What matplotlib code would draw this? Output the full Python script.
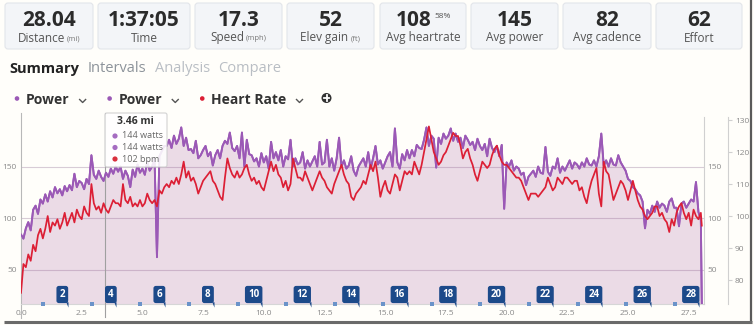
import numpy as np
import matplotlib.pyplot as plt
from matplotlib.patches import FancyBboxPatch, Circle
from matplotlib.path import Path

plt.rcParams['font.family'] = ['Open Sans', 'DejaVu Sans']

# summary tiles
tile_values = ['28.04', '1:37:05', '17.3', '52', '108', '145', '82', '62']
tile_labels = ['Distance', 'Time', 'Speed', 'Elev gain', 'Avg heartrate',
               'Avg power', 'Avg cadence', 'Effort']
tile_units = ['(mi)', '', '(mph)', '(ft)', '', '', '', '']
tile_sup = ['', '', '', '', '58%', '', '', '']

tabs = ['Summary', 'Intervals', 'Analysis', 'Compare']
series_names = ['Power', 'Power', 'Heart Rate']

# samples every 0.1 mi, one row per mile (watts)
power = [
    84, 80, 90, 96, 88, 108, 112, 104, 118, 114,
    123, 116, 126, 120, 130, 124, 128, 122, 131, 126,
    132, 127, 143, 130, 136, 134, 128, 138, 133, 161,
    142, 138, 146, 140, 136, 144, 140, 148, 143, 150,
    145, 150, 138, 146, 141, 130, 147, 140, 152, 144,
    148, 142, 155, 146, 150, 158, 62, 160, 165, 170,
    170, 176, 168, 180, 172, 177, 188, 170, 178, 166,
    167, 163, 175, 158, 161, 166, 170, 160, 164, 151,
    161, 166, 158, 170, 175, 172, 183, 168, 165, 170,
    158, 183, 150, 176, 162, 161, 155, 158, 150, 163,
    154, 160, 148, 174, 158, 164, 156, 166, 150, 160,
    157, 176, 150, 158, 152, 154, 164, 148, 156, 150,
    155, 160, 150, 174, 152, 154, 176, 150, 158, 146,
    158, 178, 150, 156, 148, 151, 160, 146, 141, 150,
    154, 158, 150, 164, 148, 158, 170, 152, 156, 148,
    154, 160, 164, 150, 187, 154, 148, 162, 156, 166,
    158, 166, 160, 171, 168, 167, 176, 188, 170, 180,
    177, 149, 178, 172, 182, 177, 180, 187, 175, 182,
    174, 178, 168, 180, 176, 171, 174, 166, 177, 170,
    166, 172, 160, 177, 168, 164, 170, 160, 171, 109,
    154, 150, 156, 146, 150, 148, 142, 144, 132, 140,
    143, 146, 140, 150, 144, 143, 169, 145, 141, 150,
    148, 158, 144, 150, 146, 151, 156, 148, 154, 152,
    148, 154, 150, 158, 152, 151, 156, 150, 160, 182,
    151, 156, 150, 158, 152, 151, 161, 154, 150, 146,
    138, 136, 130, 128, 124, 122, 116, 90, 108, 104,
    112, 106, 116, 110, 114, 112, 106, 116, 119, 110,
    110, 92, 114, 116, 110, 114, 118, 116, 135, 106,
    98, 17,
]

# bpm, same sampling
heart_rate = [
    76, 85, 84, 88, 86, 91, 89, 94, 96, 93,
    96, 100, 95, 98, 97, 99, 96, 98, 101, 97,
    99, 101, 98, 102, 100, 99, 103, 101, 100, 110,
    104, 102, 103, 101, 104, 102, 101, 103, 105, 104,
    104, 103, 110, 105, 104, 106, 103, 104, 103, 105,
    103, 104, 107, 105, 104, 105, 103, 108, 107, 109,
    110, 109, 111, 110, 112, 110, 113, 117, 112, 114,
    111, 112, 110, 107, 109, 111, 112, 113, 114, 111,
    110, 108, 106, 105, 112, 118, 115, 113, 112, 114,
    112, 113, 115, 116, 113, 111, 112, 110, 111, 109,
    108, 111, 114, 117, 114, 116, 113, 112, 109, 111,
    108, 110, 118, 115, 112, 112, 111, 114, 112, 110,
    108, 110, 112, 114, 112, 111, 109, 108, 107, 110,
    112, 114, 116, 113, 111, 110, 106, 105, 107, 108,
    109, 111, 110, 113, 116, 114, 117, 112, 106, 109,
    111, 108, 107, 110, 113, 112, 108, 111, 114, 113,
    114, 113, 117, 115, 113, 116, 120, 124, 128, 124,
    120, 118, 116, 117, 119, 120, 122, 124, 126, 125,
    125, 122, 118, 120, 121, 118, 116, 113, 111, 114,
    117, 116, 115, 116, 119, 121, 122, 119, 117, 116,
    116, 115, 114, 113, 112, 112, 111, 109, 107, 105,
    107, 107, 107, 106, 107, 108, 109, 112, 110, 108,
    109, 112, 111, 110, 112, 112, 111, 110, 111, 111,
    108, 109, 106, 104, 108, 111, 113, 115, 107, 103,
    117, 114, 113, 109, 105, 107, 109, 111, 110, 108,
    105, 108, 111, 108, 105, 103, 102, 100, 99, 100,
    101, 103, 103, 100, 101, 99, 98, 95, 99, 97,
    101, 103, 104, 101, 99, 101, 97, 102, 100, 99,
    101, 97,
]

distance = list(np.round(np.arange(0, 28.05, 0.1), 1)) + [28.04]

laps = list(range(1, 29))
hover_mile = 3.46
hover_title = '3.46 mi'
hover_lines = ['144 watts', '144 watts', '102 bpm']

PURPLE = '#9b59b6'
RED = '#dc1f35'
BG = '#fffefa'
TICK = '#8a8a8a'

fig = plt.figure(figsize=(7.54, 3.25), dpi=100, facecolor=BG)

ax = fig.add_axes([21 / 754, 21 / 325, 683 / 754, 191 / 325])
ax.set_facecolor(BG)
ax.set_xlim(0, 28.13)
ax.set_ylim(16.5, 202)
ax.fill_between(distance, power, 16.5, color='#9c4f96', alpha=0.2, lw=0, zorder=1)
ax.plot(distance, power, color=PURPLE, lw=1.35, zorder=2)
ax.set_yticks([50, 100, 150])
ax.set_xticks(np.arange(0, 28, 2.5))
ax.set_xticklabels([f'{v:.1f}' for v in np.arange(0, 28, 2.5)])
ax.grid(axis='y', color='#d8ccd6', lw=0.8)
ax.set_axisbelow(True)
ax.tick_params(axis='both', length=0, labelsize=6, labelcolor=TICK)
ax.tick_params(axis='y', pad=3)
ax.tick_params(axis='x', pad=4)
for s in ['top', 'left', 'right']:
    ax.spines[s].set_visible(False)
ax.spines['bottom'].set_color('#d6d6d6')
ax.spines['bottom'].set_linewidth(0.8)
ax.axvline(0, ymin=-0.075, ymax=1, color='#b8b8b8', lw=0.8, clip_on=False)
ax.axvline(hover_mile, ymin=-0.07, ymax=1, color='#a0a0a0', lw=0.8, clip_on=False, zorder=3)

# second power series on the inner right axis
ax2 = ax.twinx()
ax2.set_ylim(16.5, 202)
ax2.plot(distance, power, color=PURPLE, lw=1.35)
ax2.set_yticks([50, 100, 150])
ax2.tick_params(axis='y', length=0, pad=2.5, labelsize=6, labelcolor=TICK)
for s in ['top', 'left', 'bottom']:
    ax2.spines[s].set_visible(False)
ax2.spines['right'].set_color('#d0d0d0')
ax2.spines['right'].set_bounds(16.5, 198)

# heart rate on the outer right axis
ax3 = ax.twinx()
ax3.set_ylim(72.5, 132.2)
ax3.plot(distance, heart_rate, color=RED, lw=1.25)
ax3.set_yticks([80, 90, 100, 110, 120, 130])
ax3.spines['right'].set_position(('outward', 17.3))
ax3.spines['right'].set_bounds(72.5, 131)
ax3.spines['right'].set_color('#d0d0d0')
for s in ['top', 'left', 'bottom']:
    ax3.spines[s].set_visible(False)
ax3.tick_params(axis='y', length=3, width=0.8, color='#d0d0d0', pad=2,
                labelsize=6, labelcolor=TICK)

# lap markers
xt = ax.get_xaxis_transform()
tail = Path([(-1.0, 1.0), (0.0, 1.0), (0.0, -1.4), (-1.0, 1.0)])
for n in laps:
    if n % 2 == 0:
        ax3.annotate(str(n), xy=(n, 0), xycoords=xt, xytext=(-4.5, 4),
                     textcoords='offset pixels', ha='right', va='bottom',
                     fontsize=7, fontweight='bold', color='white', zorder=6,
                     annotation_clip=False,
                     bbox=dict(boxstyle='round,pad=0.32,rounding_size=0.25',
                               fc='#1c4a8a', ec='none'))
        ax3.plot(n - 0.07, 0.0, marker=tail, ms=4.5, color='#1c4a8a', mew=0,
                 transform=xt, clip_on=False, zorder=6)
    else:
        ax3.plot(n - 0.08, 0.0, marker='s', ms=2.8, color='#6a93c9', mew=0,
                 transform=xt, clip_on=False, zorder=6)

# overlay in pixel coordinates for the page furniture
ov = fig.add_axes([0, 0, 1, 1], zorder=5)
ov.set_xlim(0, 754)
ov.set_ylim(325, 0)
ov.axis('off')
r = fig.canvas.get_renderer()

tile_left = [5, 98, 195, 287, 380, 471, 563, 656]
tile_right = [93, 190, 282, 374, 466, 558, 651, 742]
for i in range(len(tile_values)):
    l, rr = tile_left[i], tile_right[i]
    cx = (l + rr) / 2
    ov.add_patch(FancyBboxPatch((l, 3), rr - l, 46,
                                boxstyle='round,pad=0,rounding_size=3',
                                fc='#f3f5f8', ec='#e2e5ea', lw=0.8))
    val = ov.text(cx, 21, tile_values[i], fontsize=15, fontweight='bold',
                  color='#2b2b2b', ha='center', va='center')
    if tile_sup[i]:
        val.set_ha('left')
        sup = ov.text(0, 16, tile_sup[i], fontsize=6, color='#555', ha='left', va='center')
        w1 = val.get_window_extent(r).width
        w2 = sup.get_window_extent(r).width
        st = cx - (w1 + 3 + w2) / 2
        val.set_x(st)
        sup.set_x(st + w1 + 3)
    lab = ov.text(cx, 38, tile_labels[i], fontsize=8.5, color='#555',
                  ha='center', va='center')
    if tile_units[i]:
        lab.set_ha('left')
        un = ov.text(0, 39, tile_units[i], fontsize=5.5, color='#777',
                     ha='left', va='center')
        w1 = lab.get_window_extent(r).width
        w2 = un.get_window_extent(r).width
        st = cx - (w1 + 2 + w2) / 2
        lab.set_x(st)
        un.set_x(st + w1 + 2)

# tabs
tab_colors = ['#222222', '#8c939a', '#b9bec4', '#b9bec4']
x = 9
for i, t in enumerate(tabs):
    tt = ov.text(x, 69, t, fontsize=10.5, color=tab_colors[i], ha='left', va='center',
                 fontweight='bold' if i == 0 else 'normal')
    x += tt.get_window_extent(r).width + 8.5

# series selector row
series_colors = [PURPLE, PURPLE, RED]
x = 17
for i, name in enumerate(series_names):
    ov.add_patch(Circle((x, 98.5), 2.3, color=series_colors[i], lw=0))
    tt = ov.text(x + 9, 100, name, fontsize=10, fontweight='bold', color='#333',
                 ha='left', va='center')
    cx = x + 9 + tt.get_window_extent(r).width + 13
    ov.plot([cx - 3, cx, cx + 3], [99.5, 102.5, 99.5], color='#555', lw=1)
    x = cx + 27
ov.add_patch(Circle((x, 98), 5, color='#333', lw=0))
ov.plot([x - 2.6, x + 2.6], [98, 98], color='white', lw=1.3)
ov.plot([x, x], [95.4, 100.6], color='white', lw=1.3)

# tooltip
ov.add_patch(FancyBboxPatch((105, 113), 62, 54, boxstyle='round,pad=0,rounding_size=2',
                            fc='white', ec='#cccccc', lw=0.8, alpha=0.88))
ov.text(135, 121.5, hover_title, fontsize=7.5, fontweight='bold', color='#333',
        ha='center', va='center')
dot_colors = ['#a56cc1', '#a56cc1', '#d9303e']
for i, txt in enumerate(hover_lines):
    yy = 136 + i * 11.5
    ov.add_patch(Circle((115, yy), 2.6, color=dot_colors[i], lw=0))
    ov.text(122, yy, txt, fontsize=6.5, color='#666', ha='left', va='center')

# screenshot shadow
ov.plot([751, 751], [0, 322], color='#5a5a5a', lw=1.6, solid_capstyle='butt')
ov.plot([4, 752], [322, 322], color='#6a6a6a', lw=2.2, solid_capstyle='butt')

plt.savefig('out.png', dpi=100, facecolor=BG)
